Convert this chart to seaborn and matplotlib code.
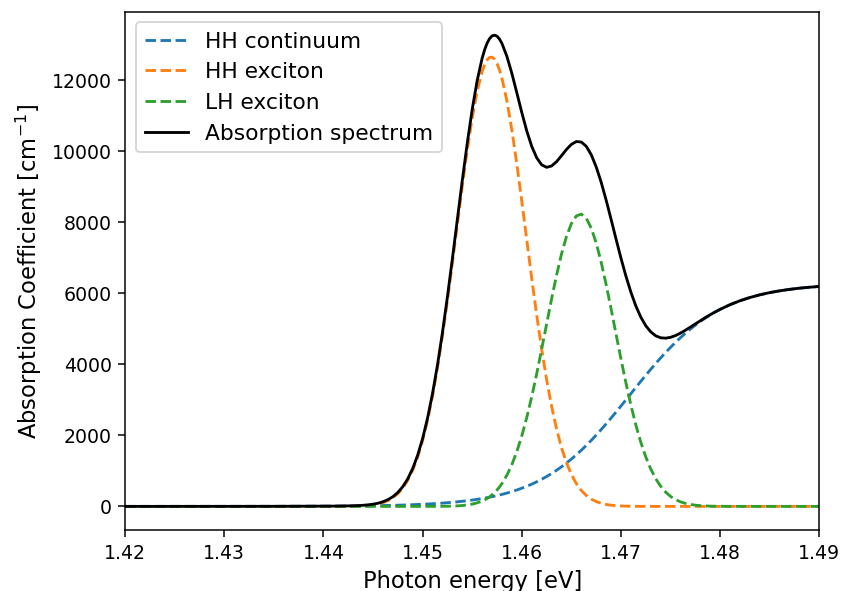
import numpy as np
import pandas as pd
import matplotlib
matplotlib.use("Agg")
import matplotlib.pyplot as plt
import seaborn as sns

# Photon energy grid [eV] (denser around the heavy-hole peak)
energy = [
    1.4200, 1.4300, 1.4350, 1.4400, 1.4410, 1.4420,
    1.4430, 1.4435, 1.4440, 1.4445, 1.4450, 1.4455, 1.4460, 1.4465, 1.4470, 1.4475,
    1.4480, 1.4485, 1.4490, 1.4495, 1.4500, 1.4505, 1.4510, 1.4515, 1.4520, 1.4525,
    1.4530, 1.4535, 1.4540, 1.4545, 1.4550, 1.4555, 1.4560,
    1.45625, 1.4565, 1.45675, 1.4570, 1.45725, 1.4575, 1.45775,
    1.4580, 1.4585, 1.4590, 1.4595, 1.4600, 1.4605, 1.4610, 1.4615, 1.4620, 1.4625,
    1.4630, 1.4635, 1.4640, 1.4645, 1.4650, 1.4655, 1.4660, 1.4665, 1.4670, 1.4675,
    1.4680, 1.4685, 1.4690, 1.4695, 1.4700, 1.4705, 1.4710, 1.4715, 1.4720, 1.4725,
    1.4730, 1.4735, 1.4740, 1.4745, 1.4750, 1.4755, 1.4760, 1.4765, 1.4770, 1.4775,
    1.4780, 1.4785, 1.4790, 1.4795, 1.4800,
    1.481, 1.482, 1.483, 1.484, 1.485, 1.486, 1.487, 1.488, 1.489, 1.490,
]

# Heavy-hole continuum absorption [cm^-1]
hh_continuum = [
    0, 1, 2, 7, 8, 10,
    13, 14, 16, 18, 20, 22, 25, 28, 31, 34,
    38, 43, 48, 54, 60, 67, 75, 83, 93, 104,
    115, 129, 144, 160, 178, 198, 221,
    233, 246, 259, 274, 288, 304, 321,
    338, 375, 417, 462, 512, 566, 626, 692, 763, 841,
    925, 1016, 1115, 1220, 1333, 1454, 1581, 1717, 1859, 2007,
    2162, 2322, 2487, 2655, 2827, 3001, 3175, 3349, 3522, 3692,
    3860, 4023, 4181, 4333, 4479, 4618, 4751, 4875, 4993, 5103,
    5205, 5301, 5389, 5471, 5546,
    5678, 5789, 5880, 5956, 6018, 6068, 6109, 6143, 6169, 6191,
]

# Heavy-hole exciton line [cm^-1]
hh_exciton = [
    0, 0, 0, 0, 0, 2,
    5, 9, 15, 26, 42, 67, 105, 161, 242, 358,
    517, 734, 1019, 1388, 1852, 2422, 3105, 3900, 4801, 5792,
    6847, 7934, 9010, 10026, 10935, 11688, 12243,
    12436, 12569, 12638, 12645, 12588, 12468, 12286,
    12047, 11408, 10588, 9630, 8584, 7498, 6419, 5386, 4428, 3569,
    2818, 2181, 1654, 1230, 896, 640, 448, 307, 206, 136,
    88, 55, 34, 21, 12, 7, 4, 2, 1, 1,
    0, 0, 0, 0, 0, 0, 0, 0, 0, 0,
    0, 0, 0, 0, 0,
    0, 0, 0, 0, 0, 0, 0, 0, 0, 0,
]

# Light-hole exciton line [cm^-1]
lh_exciton = [
    0, 0, 0, 0, 0, 0,
    0, 0, 0, 0, 0, 0, 0, 0, 0, 0,
    0, 0, 0, 0, 0, 1, 1, 2, 3, 5,
    9, 15, 25, 41, 64, 100, 151,
    184, 223, 270, 325, 388, 462, 547,
    644, 880, 1179, 1546, 1988, 2503, 3089, 3734, 4424, 5134,
    5839, 6506, 7102, 7597, 7962, 8176, 8227, 8110, 7833, 7413,
    6874, 6246, 5560, 4849, 4144, 3470, 2847, 2288, 1802, 1391,
    1052, 779, 565, 402, 280, 191, 128, 84, 54, 34,
    21, 13, 7, 4, 2,
    1, 0, 0, 0, 0, 0, 0, 0, 0, 0,
]

# Total absorption spectrum is the sum of the three contributions
total = (np.array(hh_continuum) + np.array(hh_exciton) + np.array(lh_exciton)).tolist()

df = pd.DataFrame({
    "energy": energy,
    "HH continuum": hh_continuum,
    "HH exciton": hh_exciton,
    "LH exciton": lh_exciton,
    "Absorption spectrum": total,
})

DPI = 136
fig = plt.figure(figsize=(841.4 / DPI, 591.4 / DPI), dpi=DPI)
ax = fig.add_axes([125 / 841, 1 - 530 / 591, (819 - 125) / 841, (530 - 12) / 591])

series = [
    ("HH continuum", "#1f77b4", "--"),
    ("HH exciton", "#ff7f0e", "--"),
    ("LH exciton", "#2ca02c", "--"),
    ("Absorption spectrum", "black", "-"),
]
for name, color, ls in series:
    sns.lineplot(data=df, x="energy", y=name, ax=ax, color=color, linestyle=ls,
                 linewidth=1.5, label=name, sort=False, errorbar=None)

ax.set_xlim(1.42, 1.49)
ax.set_xticks([1.42, 1.43, 1.44, 1.45, 1.46, 1.47, 1.48, 1.49])
ax.set_xlabel("Photon energy [eV]", fontsize=12)
ax.set_ylabel("Absorption Coefficient [cm$^{-1}$]", fontsize=12)
ax.legend(loc="upper left", fontsize=11.5)

fig.savefig("out.png", dpi=DPI)
